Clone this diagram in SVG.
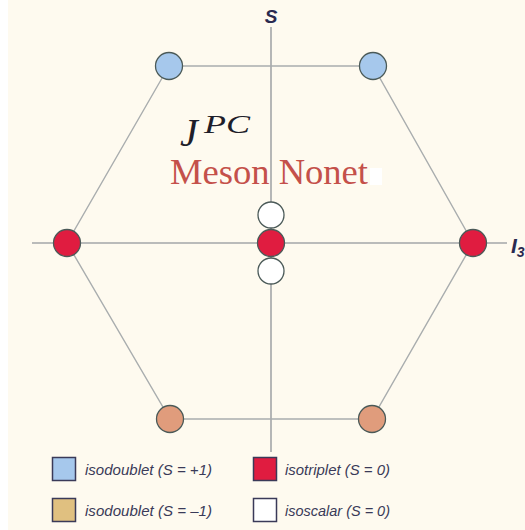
<svg xmlns="http://www.w3.org/2000/svg" width="525" height="530" viewBox="0 0 525 530">
<style>
.axis{stroke:#a3a6a8;stroke-width:1.6;fill:none}
.edge{stroke:#a9adae;stroke-width:1.4;fill:none}
.node{stroke:#4b5a58;stroke-width:1.3}
.blue{fill:#a6c8ec}
.red{fill:#e01c40}
.orange{fill:#e09c7c}
.white{fill:#ffffff}
.tan{fill:#e0c080}
.sq{stroke:#3a3a58;stroke-width:1.5}
.lab{font-family:"Liberation Sans",Arial,sans-serif;font-style:italic;font-weight:bold;fill:#2a2a50}
.leg{font-family:"Liberation Sans",Arial,sans-serif;font-style:italic;font-size:15px;fill:#3a3a58}
</style>
<rect width="525" height="530" fill="#fefaef"/>
<rect x="0" y="0" width="8" height="530" fill="#ffffff"/>
<g id="connectors">
<line class="axis" x1="271" y1="27" x2="271" y2="452"/>
<line class="axis" x1="32" y1="243" x2="507" y2="243"/>
<polyline class="edge" points="169,66 373,66 473,243 372,419 170,419 67,243 169,66"/>
</g>
<g id="axis-labels">
<text class="lab" x="271" y="23" font-size="19" text-anchor="middle">S</text>
<text class="lab" x="511" y="253" font-size="21">I<tspan font-size="14" dy="4">3</tspan></text>
</g>
<g id="title">
<text x="180" y="146" font-family="Liberation Serif,serif" font-style="italic" font-size="40" fill="#1e1e2a">J</text>
<text x="204" y="133" font-family="Liberation Serif,serif" font-style="italic" font-size="26" fill="#1e1e2a" textLength="46" lengthAdjust="spacingAndGlyphs">PC</text>
<text x="170" y="184" font-family="Liberation Serif,serif" font-size="35" fill="#c4504a" textLength="198" lengthAdjust="spacingAndGlyphs">Meson Nonet</text>
<rect x="370" y="168" width="12" height="17" fill="#ffffff"/>
</g>
<g id="node-top-left"><circle class="node blue" cx="169" cy="66" r="13.5"/></g>
<g id="node-top-right"><circle class="node blue" cx="373" cy="66" r="13.5"/></g>
<g id="node-left"><circle class="node red" cx="67" cy="243" r="13.5"/></g>
<g id="node-right"><circle class="node red" cx="473" cy="243" r="13.5"/></g>
<g id="node-center-top"><circle class="node white" cx="271" cy="215" r="13"/></g>
<g id="node-center-bottom"><circle class="node white" cx="271" cy="271" r="13"/></g>
<g id="node-center"><circle class="node red" cx="271" cy="243" r="13.5"/></g>
<g id="node-bottom-left"><circle class="node orange" cx="170" cy="419" r="13.5"/></g>
<g id="node-bottom-right"><circle class="node orange" cx="372" cy="419" r="13.5"/></g>
<g id="legend">
<rect class="sq blue" x="52.5" y="457.5" width="23" height="23"/>
<text class="leg" x="85" y="475" textLength="127" lengthAdjust="spacingAndGlyphs">isodoublet (S = +1)</text>
<rect class="sq tan" x="52.5" y="498.5" width="23" height="23"/>
<text class="leg" x="85" y="516" textLength="127" lengthAdjust="spacingAndGlyphs">isodoublet (S = –1)</text>
<rect class="sq red" x="253.5" y="457.5" width="23" height="23"/>
<text class="leg" x="285" y="475" textLength="105" lengthAdjust="spacingAndGlyphs">isotriplet (S = 0)</text>
<rect class="sq white" x="253.5" y="498.5" width="23" height="23"/>
<text class="leg" x="285" y="516" textLength="105" lengthAdjust="spacingAndGlyphs">isoscalar (S = 0)</text>
</g>
</svg>
